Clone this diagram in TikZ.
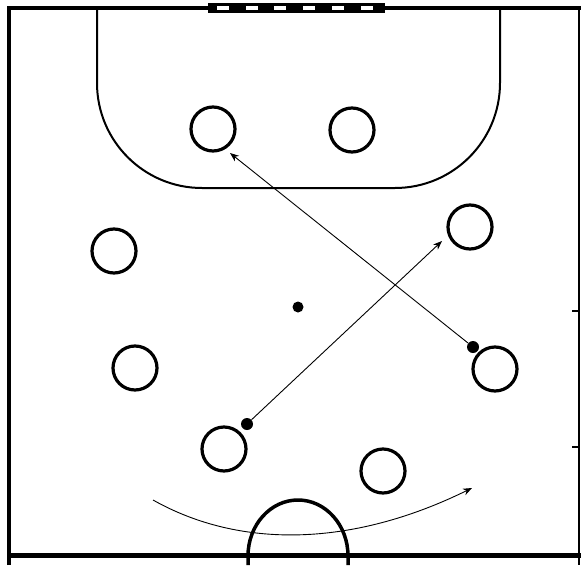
\documentclass[tikz,border=0pt]{standalone}
\usetikzlibrary{arrows.meta}
\begin{document}
\begin{tikzpicture}[x=1pt,y=-1pt,
  player/.style={circle,draw=black,line width=3.2pt,minimum size=44pt,inner sep=0pt},
  dot/.style={circle,fill=black,inner sep=0pt,minimum size=#1},
  run/.style={line width=0.9pt,-{Stealth[length=9pt,width=7pt]}},
  court/.style={line width=4pt},
  tick/.style={line width=2pt}]
\useasboundingbox (0,0) rectangle (581,565);
% court lines
\draw[court] (9,565) -- (9,8) -- (581,8);
\draw[line width=5pt] (9,555) -- (581,555);
\draw[line width=1.2pt] (579,8) -- (579,565);
\draw[tick] (572,311) -- (579,311);
\draw[tick] (572,447) -- (579,447);
% goal
\fill[black] (208,3) rectangle (385,13);
\foreach \i in {0,...,5}{
  \fill[white] ({217+28.7*\i},6) rectangle ({229+28.7*\i},10);
}
% goal area
\draw[line width=2pt,rounded corners=105pt] (97,8) -- (97,188) -- (500,188) -- (500,8);
% bottom semicircle
\draw[line width=3.5pt] (248,565) -- (248,556) arc[start angle=180,end angle=0,x radius=50pt,y radius=56pt] -- (348,565);
% players
\node[player] (p1) at (213,129) {};
\node[player] (p2) at (352,130) {};
\node[player] (p3) at (470,227) {};
\node[player] (p4) at (114,251) {};
\node[player] (p5) at (135,368) {};
\node[player] (p6) at (495,369) {};
\node[player] (p7) at (224,449) {};
\node[player] (p8) at (383,471) {};
% center dot
\node[dot=11pt] (c) at (298,307) {};
% runs
\node[dot=12pt] (s1) at (247,424) {};
\node[dot=12pt] (s2) at (473,347) {};
\coordinate (e1) at (442,241);
\coordinate (e2) at (230,153);
\draw[run] (s1) -- (e1);
\draw[run] (s2) -- (e2);
% bottom sweep
\coordinate (a1) at (153,500);
\coordinate (a2) at (472,488);
\draw[run] (a1) .. controls (240,549) and (352,547) .. (a2);
\end{tikzpicture}
\end{document}
